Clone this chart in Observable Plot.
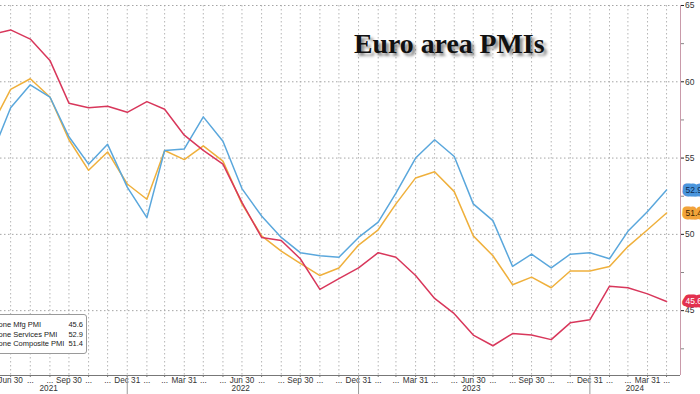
<!DOCTYPE html>
<html><head><meta charset="utf-8">
<script src="https://cdn.jsdelivr.net/npm/d3@7"></script>
<script src="https://cdn.jsdelivr.net/npm/@observablehq/plot@0.6"></script>
<style>
html,body{margin:0;padding:0;background:#fff;}
#wrap{position:relative;width:700px;height:394px;overflow:hidden;background:#fff;}
#chart svg{display:block;}
#title{position:absolute;left:354px;top:30px;font:bold 27.8px "Liberation Serif","Times New Roman",serif;color:#111;text-shadow:3px 3px 3px rgba(0,0,0,0.45);white-space:nowrap;line-height:1;}
#legend{position:absolute;left:-42px;top:314px;width:129px;height:40px;box-sizing:border-box;border:1px solid #9a9a9a;border-radius:3px;background:#fff;padding:5px 3px 0 3px;font:7.5px "Liberation Sans",Arial,sans-serif;color:#222;}
#legend .row{display:flex;align-items:center;height:9.6px;white-space:nowrap;}
#legend .sw{width:12px;height:2px;margin-right:5px;flex:none;}
#legend .val{margin-left:auto;}
</style></head>
<body>
<div id="wrap"><div id="chart"></div><div id="title">Euro area PMIs</div><div id="legend"></div></div>
<script>
const months = ["2021-05-31","2021-06-30","2021-07-31","2021-08-31","2021-09-30","2021-10-31","2021-11-30","2021-12-31",
"2022-01-31","2022-02-28","2022-03-31","2022-04-30","2022-05-31","2022-06-30","2022-07-31","2022-08-31","2022-09-30","2022-10-31","2022-11-30","2022-12-31",
"2023-01-31","2023-02-28","2023-03-31","2023-04-30","2023-05-31","2023-06-30","2023-07-31","2023-08-31","2023-09-30","2023-10-31","2023-11-30","2023-12-31",
"2024-01-31","2024-02-29","2024-03-31","2024-04-30"];
const mfg = [63.1,63.4,62.8,61.4,58.6,58.3,58.4,58.0,
58.7,58.2,56.5,55.5,54.6,52.1,49.8,49.6,48.4,46.4,47.1,47.8,
48.8,48.5,47.3,45.8,44.8,43.4,42.7,43.5,43.4,43.1,44.2,44.4,
46.6,46.5,46.1,45.6];
const services = [55.2,58.3,59.8,59.0,56.4,54.6,55.9,53.1,
51.1,55.5,55.6,57.7,56.1,53.0,51.2,49.8,48.8,48.6,48.5,49.8,
50.8,52.7,55.0,56.2,55.1,52.0,50.9,47.9,48.7,47.8,48.7,48.8,
48.4,50.2,51.5,52.9];
const composite = [57.1,59.5,60.2,59.0,56.2,54.2,55.4,53.3,
52.3,55.5,54.9,55.8,54.8,52.0,49.9,48.9,48.1,47.3,47.8,49.3,
50.3,52.0,53.7,54.1,52.8,49.9,48.6,46.7,47.2,46.5,47.6,47.6,
47.9,49.2,50.3,51.4];
const seriesNames = ["Eurozone Mfg PMI","Eurozone Services PMI","Eurozone Composite PMI"];
const seriesColors = ["#d8375b","#5aa7dc","#efb03c"];
const tagFills = ["#e3304f","#4b96dd","#f2a33a"];
const tagTextColors = ["#ffffff","#0d2a4f","#3b2300"];
const yTicks = [45,50,55,60,65];
const yMinorTicks = [42.5,47.5,52.5,57.5,62.5];
const yearLabels = ["2021","2022","2023","2024"];
const yearLabelDates = ["2021-08-29","2022-06-28","2023-06-27","2024-03-11"];
const yearBreaks = ["2021-12-31","2022-12-31","2023-12-31"];
const xStart = "2021-06-14", xEnd = "2024-05-22";
const yMin = 40.75, yMax = 65;

const toDate = s => new Date(s + "T00:00:00Z");
const dates = months.map(toDate);
const allSeries = [mfg, services, composite];
const xDomain = [toDate(xStart), toDate(xEnd)];
const inDomain = dates.filter(d => d >= xDomain[0] && d <= xDomain[1]);
const fmtQ = d3.utcFormat("%b %d");
const tickFmt = d => ([2,5,8,11].includes(d.getUTCMonth()) ? fmtQ(d) : "...");

const lineOrder = [2,1,0];
const lineMarks = lineOrder.map(i => Plot.line(dates.map((d,j)=>({date:d, value:allSeries[i][j]})),
  {x:"date", y:"value", stroke:seriesColors[i], strokeWidth:1.5, clip:true}));
const tagMarks = [];
seriesNames.forEach((name,i) => {
  const n = dates.length - 1;
  const d = [{date:dates[n], value:allSeries[i][n]}];
  tagMarks.push(Plot.text(d, {x:"date", y:"value", text:v=>v.value.toFixed(1), dx:19, textAnchor:"start",
    fill:tagFills[i], stroke:tagFills[i], strokeWidth:7, strokeLinejoin:"round", fontSize:8.5}));
  tagMarks.push(Plot.text(d, {x:"date", y:"value", text:v=>v.value.toFixed(1), dx:19, textAnchor:"start",
    fill:tagTextColors[i], fontSize:8.5}));
});

const chart = Plot.plot({
  width:700, height:394, marginLeft:0, marginRight:20, marginTop:5, marginBottom:19,
  x:{type:"utc", domain:xDomain},
  y:{domain:[yMin, yMax]},
  style:{fontFamily:"'Liberation Sans', Arial, sans-serif", fontSize:"8.5px", color:"#333", background:"transparent"},
  marks:[
    Plot.ruleX(inDomain, {stroke:"#b5b5b5", strokeDasharray:"1.5,2.5"}),
    Plot.ruleY(yTicks, {stroke:"#a5a5a5", strokeDasharray:"1.5,2.5"}),
    ...lineMarks,
    Plot.ruleY([yMin], {stroke:"#777"}),
    Plot.ruleX([xDomain[1]], {stroke:"#c99aaa"}),
    Plot.axisY({anchor:"right", ticks:yTicks, tickSize:3, tickPadding:1.5, stroke:"#222", label:null}),
    Plot.axisY({anchor:"right", ticks:yMinorTicks, tickSize:3, tickFormat:()=>"", stroke:"#888", label:null}),
    Plot.axisX({ticks:inDomain, tickSize:2, tickPadding:-0.5, tickFormat:tickFmt, stroke:"#777", fontSize:8.2, label:null}),
    Plot.axisX({ticks:yearBreaks.map(toDate), tickSize:19, tickFormat:()=>"", stroke:"#999", label:null}),
    Plot.text(yearLabels, {x:(d,i)=>toDate(yearLabelDates[i]), frameAnchor:"bottom", dy:15.5, text:d=>d, fill:"#333", fontSize:8.2}),
    ...tagMarks
  ]
});
document.getElementById("chart").appendChild(chart);

const legend = document.getElementById("legend");
seriesNames.forEach((name,i) => {
  const row = document.createElement("div"); row.className = "row";
  const sw = document.createElement("span"); sw.className = "sw"; sw.style.background = seriesColors[i];
  const lab = document.createElement("span"); lab.textContent = name;
  const val = document.createElement("span"); val.className = "val"; val.textContent = allSeries[i][allSeries[i].length-1].toFixed(1);
  row.append(sw, lab, val); legend.appendChild(row);
});
</script>
</body></html>
